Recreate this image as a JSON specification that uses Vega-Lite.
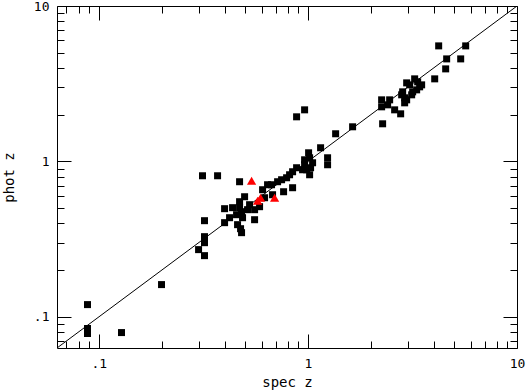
{
  "$schema": "https://vega.github.io/schema/vega-lite/v6.json",
  "width": 460,
  "height": 342,
  "autosize": "none",
  "padding": {"left": 57, "top": 6, "right": 11, "bottom": 42},
  "background": "white",
  "config": {
    "view": {"stroke": null},
    "axis": {
      "grid": false,
      "labelFont": "DejaVu Sans Mono",
      "labelFontSize": 13,
      "labelColor": "black",
      "titleFont": "DejaVu Sans Mono",
      "titleFontSize": 14,
      "titleFontWeight": "normal",
      "titleColor": "black",
      "tickColor": "black",
      "tickWidth": 1,
      "domainColor": "black",
      "domainWidth": 1,
      "labelFlush": false,
      "labelOverlap": false
    }
  },
  "datasets": {
    "gal": [
      {"spec_z": 0.0883, "phot_z": 0.120},
      {"spec_z": 0.0883, "phot_z": 0.0842},
      {"spec_z": 0.0883, "phot_z": 0.0782},
      {"spec_z": 0.1284, "phot_z": 0.0793},
      {"spec_z": 0.1995, "phot_z": 0.1614},
      {"spec_z": 0.300, "phot_z": 0.2709},
      {"spec_z": 0.3133, "phot_z": 0.809},
      {"spec_z": 0.3698, "phot_z": 0.809},
      {"spec_z": 0.3203, "phot_z": 0.4159},
      {"spec_z": 0.3203, "phot_z": 0.3283},
      {"spec_z": 0.3203, "phot_z": 0.3003},
      {"spec_z": 0.3203, "phot_z": 0.2478},
      {"spec_z": 0.4712, "phot_z": 0.7406},
      {"spec_z": 0.3995, "phot_z": 0.4968},
      {"spec_z": 0.4362, "phot_z": 0.5043},
      {"spec_z": 0.4712, "phot_z": 0.5043},
      {"spec_z": 0.498, "phot_z": 0.593},
      {"spec_z": 0.4712, "phot_z": 0.5509},
      {"spec_z": 0.5261, "phot_z": 0.527},
      {"spec_z": 0.5146, "phot_z": 0.4895},
      {"spec_z": 0.4558, "phot_z": 0.4545},
      {"spec_z": 0.4816, "phot_z": 0.4751},
      {"spec_z": 0.4869, "phot_z": 0.4347},
      {"spec_z": 0.422, "phot_z": 0.4347},
      {"spec_z": 0.3995, "phot_z": 0.4039},
      {"spec_z": 0.4609, "phot_z": 0.3921},
      {"spec_z": 0.4764, "phot_z": 0.3694},
      {"spec_z": 0.4816, "phot_z": 0.3483},
      {"spec_z": 0.5559, "phot_z": 0.422},
      {"spec_z": 0.5559, "phot_z": 0.4895},
      {"spec_z": 0.5873, "phot_z": 0.5117},
      {"spec_z": 0.6071, "phot_z": 0.6578},
      {"spec_z": 0.6413, "phot_z": 0.7083},
      {"spec_z": 0.6701, "phot_z": 0.7083},
      {"spec_z": 0.6206, "phot_z": 0.5843},
      {"spec_z": 0.6776, "phot_z": 0.6109},
      {"spec_z": 0.7162, "phot_z": 0.7406},
      {"spec_z": 0.7485, "phot_z": 0.7627},
      {"spec_z": 0.7651, "phot_z": 0.6386},
      {"spec_z": 0.7909, "phot_z": 0.7855},
      {"spec_z": 0.8173, "phot_z": 0.8212},
      {"spec_z": 0.8449, "phot_z": 0.8587},
      {"spec_z": 0.8449, "phot_z": 0.6777},
      {"spec_z": 0.8829, "phot_z": 0.9111},
      {"spec_z": 0.8829, "phot_z": 1.937},
      {"spec_z": 0.9643, "phot_z": 2.148},
      {"spec_z": 0.9643, "phot_z": 1.025},
      {"spec_z": 0.9643, "phot_z": 0.9524},
      {"spec_z": 0.9858, "phot_z": 0.8844},
      {"spec_z": 1.0077, "phot_z": 1.137},
      {"spec_z": 1.019, "phot_z": 1.056},
      {"spec_z": 1.053, "phot_z": 0.981},
      {"spec_z": 1.019, "phot_z": 0.8212},
      {"spec_z": 1.150, "phot_z": 1.225},
      {"spec_z": 1.242, "phot_z": 1.056},
      {"spec_z": 1.242, "phot_z": 0.9524},
      {"spec_z": 1.357, "phot_z": 1.507},
      {"spec_z": 1.636, "phot_z": 1.671},
      {"spec_z": 0.943, "phot_z": 0.8844},
      {"spec_z": 1.030, "phot_z": 0.9111},
      {"spec_z": 2.277, "phot_z": 1.747},
      {"spec_z": 2.252, "phot_z": 2.491},
      {"spec_z": 2.252, "phot_z": 2.246},
      {"spec_z": 2.460, "phot_z": 2.491},
      {"spec_z": 2.406, "phot_z": 2.313},
      {"spec_z": 2.599, "phot_z": 2.148},
      {"spec_z": 2.777, "phot_z": 2.025},
      {"spec_z": 2.839, "phot_z": 2.804},
      {"spec_z": 2.808, "phot_z": 2.683},
      {"spec_z": 2.902, "phot_z": 2.567},
      {"spec_z": 2.967, "phot_z": 2.491},
      {"spec_z": 2.902, "phot_z": 2.383},
      {"spec_z": 2.967, "phot_z": 3.203},
      {"spec_z": 3.067, "phot_z": 3.110},
      {"spec_z": 3.170, "phot_z": 2.804},
      {"spec_z": 3.135, "phot_z": 2.683},
      {"spec_z": 3.240, "phot_z": 3.399},
      {"spec_z": 3.349, "phot_z": 3.252},
      {"spec_z": 3.423, "phot_z": 3.020},
      {"spec_z": 3.312, "phot_z": 2.888},
      {"spec_z": 3.499, "phot_z": 3.110},
      {"spec_z": 4.040, "phot_z": 3.399},
      {"spec_z": 4.559, "phot_z": 3.940},
      {"spec_z": 4.609, "phot_z": 4.568},
      {"spec_z": 5.379, "phot_z": 4.568},
      {"spec_z": 4.221, "phot_z": 5.539},
      {"spec_z": 5.683, "phot_z": 5.539}
    ],
    "red": [
      {"spec_z": 0.5378, "phot_z": 0.7516},
      {"spec_z": 0.5745, "phot_z": 0.559},
      {"spec_z": 0.5938, "phot_z": 0.5843},
      {"spec_z": 0.6929, "phot_z": 0.5843}
    ],
    "oneone": [
      {"spec_z": 0.0631, "phot_z": 0.0631},
      {"spec_z": 10, "phot_z": 10}
    ]
  },
  "resolve": {"axis": {"x": "independent", "y": "independent"}},
  "layer": [
    {
      "data": {"name": "gal"},
      "mark": {"type": "square", "size": 49, "filled": true, "color": "black", "opacity": 1, "strokeWidth": 0},
      "encoding": {
        "x": {
          "field": "spec_z", "type": "quantitative",
          "scale": {"type": "log", "domain": [0.0631, 10], "nice": false},
          "axis": {
            "orient": "bottom",
            "title": "spec z",
            "titlePadding": -2,
            "values": [0.07, 0.08, 0.09, 0.1, 0.2, 0.3, 0.4, 0.5, 0.6, 0.7, 0.8, 0.9, 1, 2, 3, 4, 5, 6, 7, 8, 9, 10],
            "tickSize": {"condition": {"test": "datum.value == 0.1 || datum.value == 1 || datum.value == 10", "value": -14}, "value": -7},
            "labelExpr": "datum.value == 0.1 ? '.1' : (datum.value == 1 ? '1' : (datum.value == 10 ? '10' : ''))",
            "labelPadding": 23
          }
        },
        "y": {
          "field": "phot_z", "type": "quantitative",
          "scale": {"type": "log", "domain": [0.0631, 10], "nice": false},
          "axis": {
            "orient": "left",
            "title": "phot z",
            "titlePadding": 17,
            "values": [0.07, 0.08, 0.09, 0.1, 0.2, 0.3, 0.4, 0.5, 0.6, 0.7, 0.8, 0.9, 1, 2, 3, 4, 5, 6, 7, 8, 9, 10],
            "tickSize": {"condition": {"test": "datum.value == 0.1 || datum.value == 1 || datum.value == 10", "value": -14}, "value": -7},
            "labelExpr": "datum.value == 0.1 ? '.1' : (datum.value == 1 ? '1' : (datum.value == 10 ? '10' : ''))",
            "labelPadding": 22
          }
        }
      }
    },
    {
      "data": {"name": "oneone"},
      "mark": {"type": "line", "color": "black", "strokeWidth": 1, "clip": true},
      "encoding": {
        "x": {
          "field": "spec_z", "type": "quantitative",
          "scale": {"type": "log", "domain": [0.0631, 10], "nice": false},
          "axis": {
            "orient": "top",
            "title": null,
            "labels": false,
            "values": [0.07, 0.08, 0.09, 0.1, 0.2, 0.3, 0.4, 0.5, 0.6, 0.7, 0.8, 0.9, 1, 2, 3, 4, 5, 6, 7, 8, 9, 10],
            "tickSize": {"condition": {"test": "datum.value == 0.1 || datum.value == 1 || datum.value == 10", "value": -14}, "value": -7}
          }
        },
        "y": {
          "field": "phot_z", "type": "quantitative",
          "scale": {"type": "log", "domain": [0.0631, 10], "nice": false},
          "axis": {
            "orient": "right",
            "title": null,
            "labels": false,
            "values": [0.07, 0.08, 0.09, 0.1, 0.2, 0.3, 0.4, 0.5, 0.6, 0.7, 0.8, 0.9, 1, 2, 3, 4, 5, 6, 7, 8, 9, 10],
            "tickSize": {"condition": {"test": "datum.value == 0.1 || datum.value == 1 || datum.value == 10", "value": -14}, "value": -7}
          }
        }
      }
    },
    {
      "data": {"name": "red"},
      "mark": {"type": "point", "shape": "triangle-up", "size": 85, "filled": true, "color": "red", "opacity": 1, "strokeWidth": 0},
      "encoding": {
        "x": {"field": "spec_z", "type": "quantitative", "scale": {"type": "log", "domain": [0.0631, 10], "nice": false}, "axis": null},
        "y": {"field": "phot_z", "type": "quantitative", "scale": {"type": "log", "domain": [0.0631, 10], "nice": false}, "axis": null}
      }
    }
  ]
}
